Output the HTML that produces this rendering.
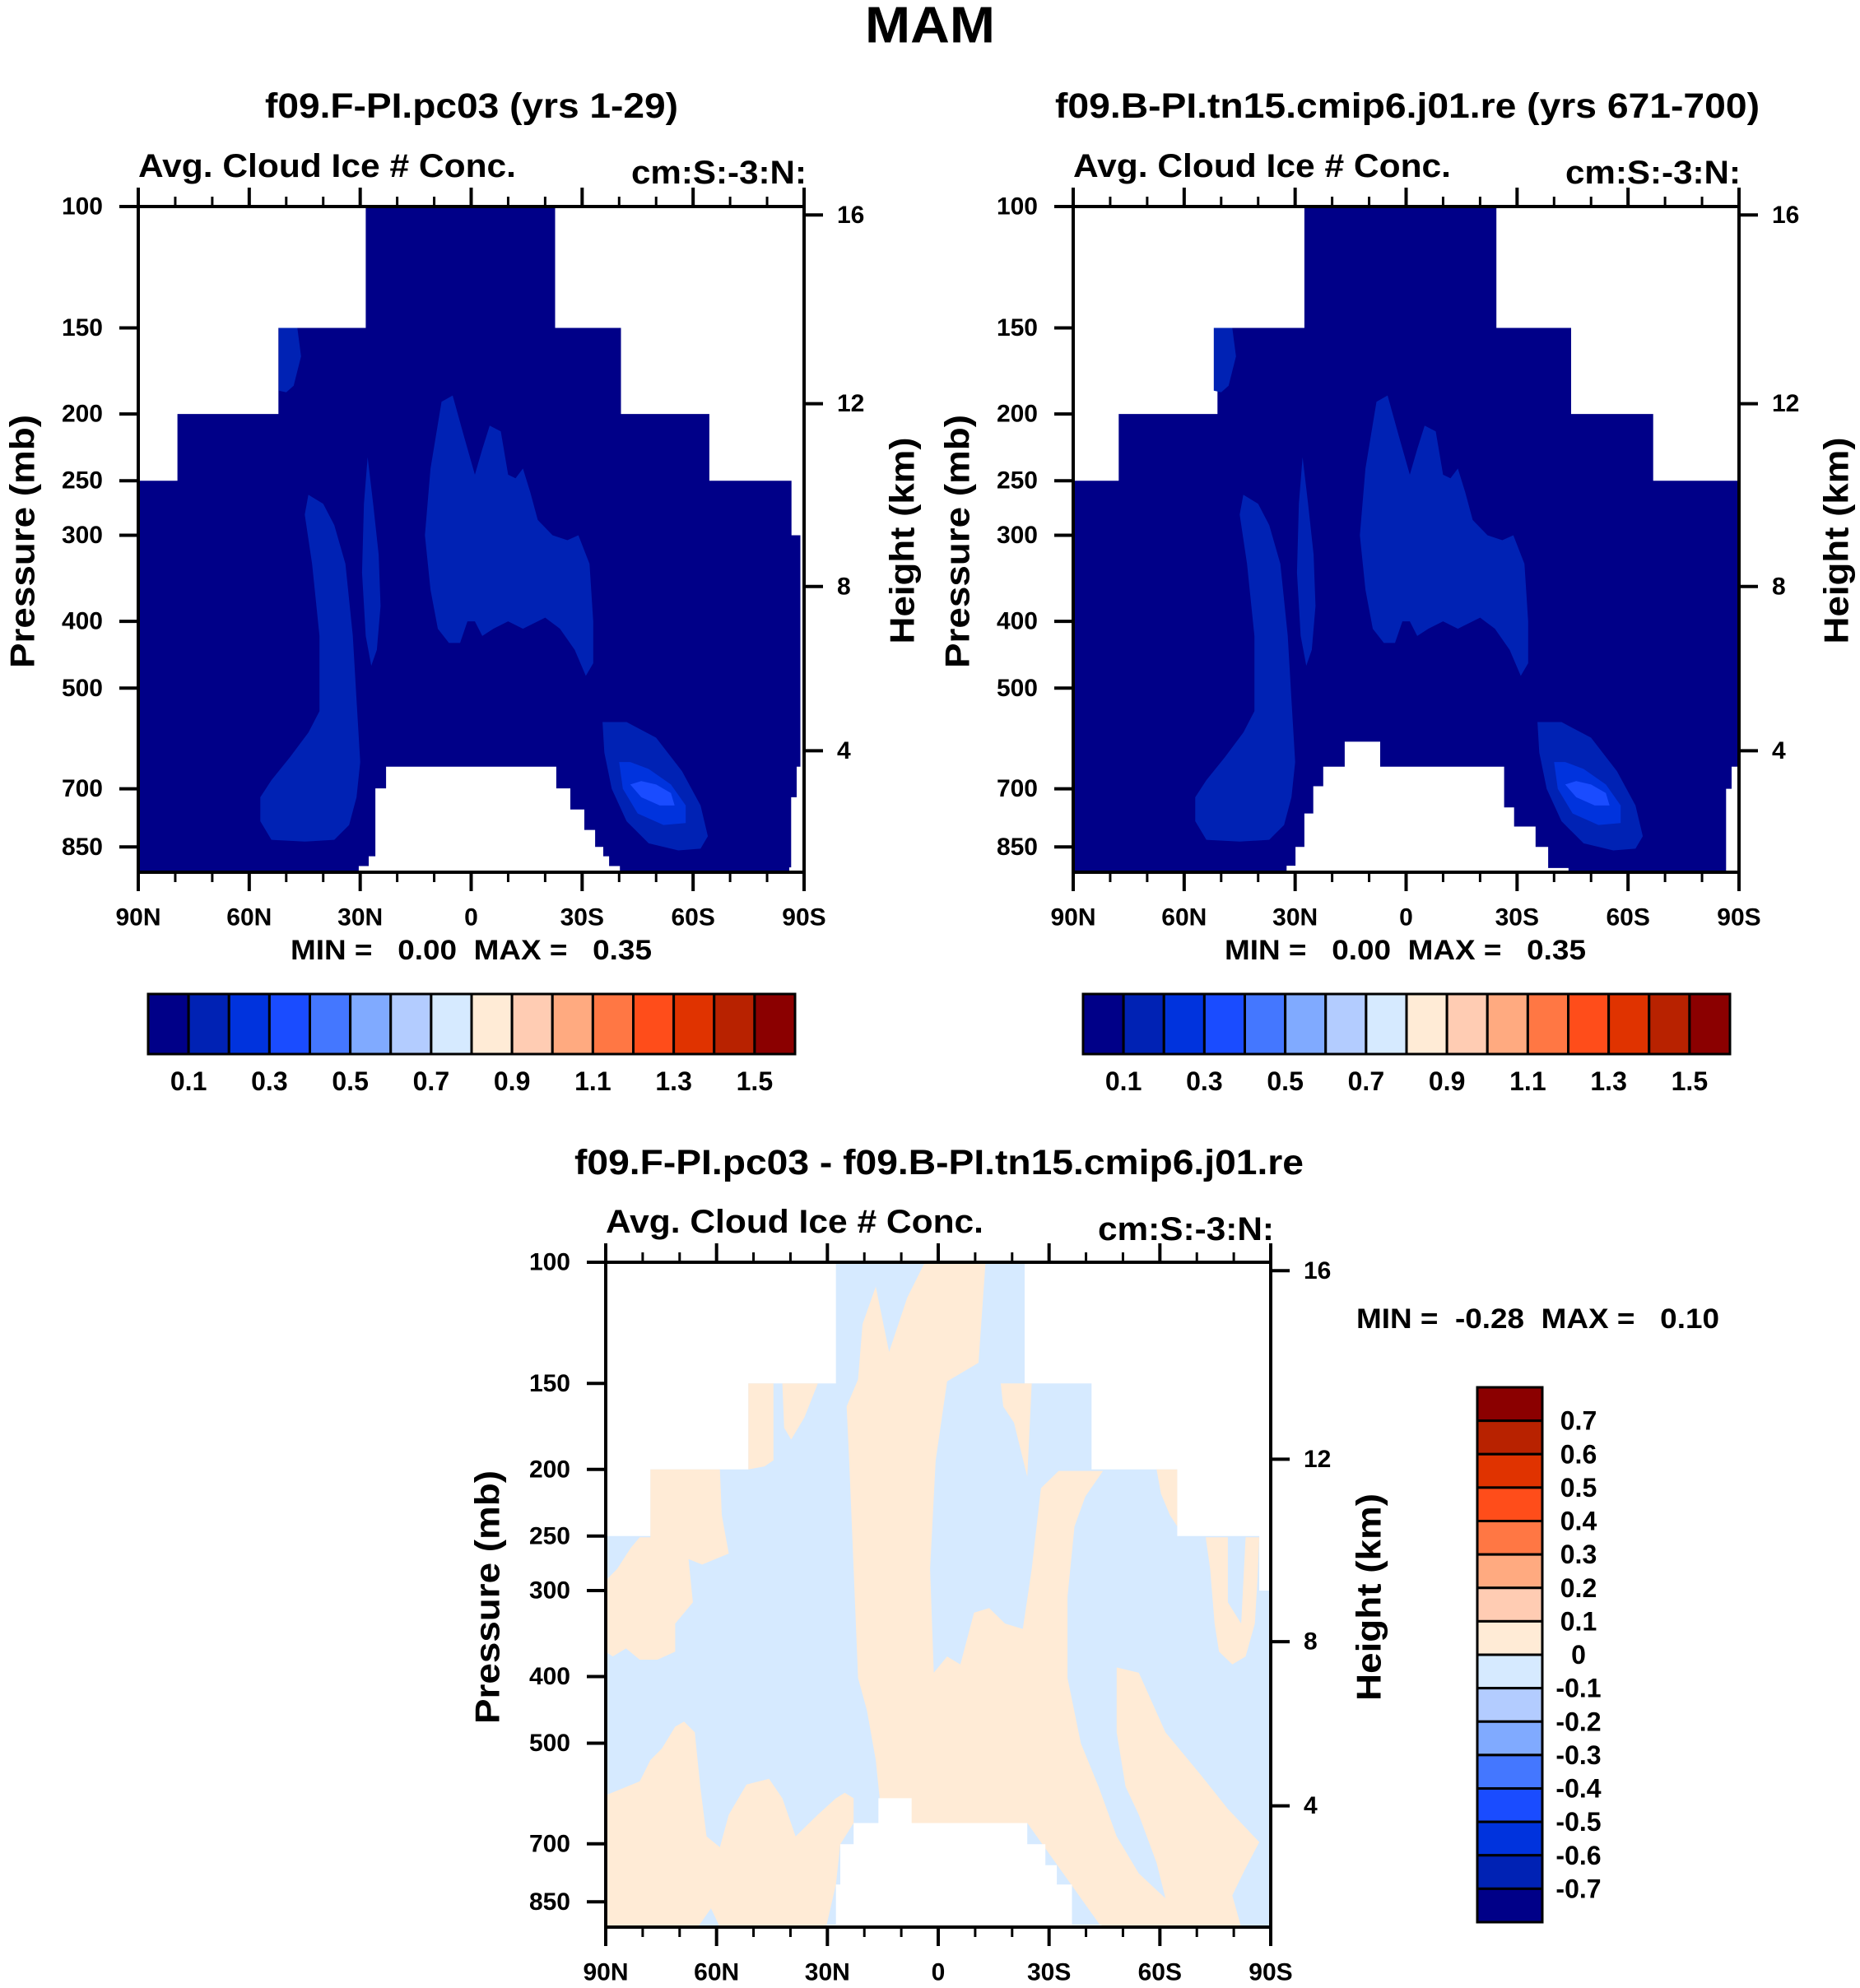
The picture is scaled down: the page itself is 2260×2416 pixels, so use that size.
<!DOCTYPE html>
<html><head><meta charset="utf-8">
<style>
html,body{margin:0;padding:0;background:#fff;}
svg{display:block;}
text{font-family:"Liberation Sans",sans-serif;font-weight:bold;fill:#000;white-space:pre;}
</style></head>
<body>
<svg id="fig" xmlns="http://www.w3.org/2000/svg" width="2260" height="2416" viewBox="0 0 2260 2416"></svg>
<script>
// ---------- data ----------
const latTicks = [90,60,30,0,-30,-60,-90];
const latTickLabels = ['90N','60N','30N','0','30S','60S','90S'];
const latMinor = [80,70,50,40,20,10,-10,-20,-40,-50,-70,-80];
const pTicks = [100,150,200,250,300,400,500,700,850];
const zTicks = [16,12,8,4];
const barColors = ['#000088','#0022B4','#0033DD','#1A4CFF','#4477FF','#80AAFF','#B3CCFF','#D6EAFF','#FFEBD6','#FFCCB3','#FFAA80','#FF7744','#FF4D1A','#E03300','#B82200','#8B0000'];
const barLabels12 = ['0.1','0.3','0.5','0.7','0.9','1.1','1.3','1.5'];
const barLabels3 = ['0.7','0.6','0.5','0.4','0.3','0.2','0.1','0','-0.1','-0.2','-0.3','-0.4','-0.5','-0.6','-0.7'];

// data coverage masks (lat, p)
const mask1 = [[28.5,100],[-22.7,100],[-22.7,150],[-40.5,150],[-40.5,200],[-64.4,200],[-64.4,250],[-86.6,250],[-86.6,300],[-89,300],[-89,650],[-88,650],[-88,720],[-86.5,720],[-86.5,910],[-86,910],[-86,925],[90,925],[90,250],[79.4,250],[79.4,200],[52.1,200],[52.1,150],[28.5,150]];
const mask2 = [[27.5,100],[-24.4,100],[-24.4,150],[-44.6,150],[-44.6,200],[-66.8,200],[-66.8,250],[-90,250],[-90,650],[-88,650],[-88,700],[-86.5,700],[-86.5,925],[90,925],[90,250],[77.7,250],[77.7,200],[51,200],[51,150],[27.5,150]];
const mask3 = [[27.7,100],[-23.4,100],[-23.4,150],[-41.5,150],[-41.5,200],[-64.7,200],[-64.7,250],[-86.9,250],[-86.9,300],[-90,300],[-90,925],[90,925],[90,250],[77.9,250],[77.9,200],[51.4,200],[51.4,150],[27.7,150]];
// surface (missing) regions
const ground1 = [[23,650],[-23,650],[-23,699],[-26.8,699],[-26.8,750],[-30.6,750],[-30.6,803],[-33.5,803],[-33.5,850],[-35.7,850],[-35.7,877],[-37.3,877],[-37.3,906],[-40.2,906],[-40.2,926],[30.4,926],[30.4,906],[27.7,906],[27.7,877],[25.9,877],[25.9,699],[23,699]];
const ground2 = [[22.4,650],[16.6,650],[16.6,598],[7,598],[7,650],[-26.5,650],[-26.5,745],[-29.2,745],[-29.2,794],[-35,794],[-35,850],[-38.4,850],[-38.4,912],[-43.9,912],[-43.9,926],[32.3,926],[32.3,905],[29.9,905],[29.9,850],[27.5,850],[27.5,760],[25.1,760],[25.1,694],[22.4,694]];
const ground3 = [[22.9,653],[16.2,653],[16.2,601],[7.2,601],[7.2,653],[-24.1,653],[-24.1,701],[-29,701],[-29,752],[-32.1,752],[-32.1,802],[-36.2,802],[-36.2,918],[-44.2,918],[-44.2,926],[30.2,926],[30.2,918],[27.7,918],[27.7,802],[26.5,802],[26.5,701],[22.9,701]];

// contour blobs for absolute plots (lat, p)
const blobA = [[44,262],[40,270],[37,290],[34,330],[32,420],[31,520],[30,640],[31,720],[33,790],[37,830],[45,835],[54,830],[57,780],[57,720],[54,680],[49,630],[44,580],[41,540],[41,420],[43,330],[45,280]];
const blobB = [[28,231],[26.5,270],[25,320],[24.5,380],[25.5,440],[27,464],[28.5,420],[29.5,340],[29,270]];
const blobC = [[12.5,300],[11,240],[8,192],[5,188],[2,215],[-1,245],[-3,225],[-5,208],[-8,212],[-10,245],[-12,248],[-14,240],[-16,260],[-18,285],[-22,300],[-26,305],[-29,300],[-32,330],[-33,400],[-33,460],[-31,480],[-28,440],[-24,410],[-20,395],[-18,400],[-14,410],[-10,400],[-6,410],[-3,420],[-1,400],[1,400],[3,430],[6,430],[9,410],[11,360]];
const blobD = [[52,150],[47,150],[46,165],[48,182],[50,186],[52,185]];
const blobE1 = [[-35.5,560],[-36,620],[-38,700],[-42,780],[-48,840],[-56,860],[-62,855],[-64,820],[-62,740],[-57,660],[-50,590],[-42,560]];
const blobE2 = [[-40,640],[-41,700],[-45,760],[-52,790],[-58,785],[-58,740],[-54,690],[-48,655],[-43,640]];
const blobE3 = [[-43,690],[-46,720],[-51,740],[-55,740],[-54,710],[-50,690],[-46,682]];

// positive regions for difference plot (lat, p)
const posBand = [[3.6,100],[-12.8,100],[-10.9,140],[-2.4,149],[0.7,194],[2.2,279],[1.2,395],[-2.4,374],[-6,384],[-9.7,323],[-13.8,318],[-18.1,335],[-22.9,341],[-25.3,279],[-27.8,213],[-32.6,201],[-44.6,201],[-39.8,219],[-36.9,242],[-35,306],[-35,402],[-38.6,500],[-43.4,578],[-48.3,683],[-54.3,773],[-61.5,840],[-59.1,746],[-54.3,635],[-50.7,578],[-48.3,482],[-48.3,388],[-54.3,395],[-61.5,482],[-71.2,557],[-78.4,623],[-86.9,696],[-83.2,759],[-79.6,832],[-82,925],[-44.2,925],[-24.1,653],[12.1,653],[15.7,612],[16.9,529],[19.3,448],[21.7,402],[22.9,279],[24.1,194],[24.8,162],[21.7,148],[20.5,123],[16.9,108.5],[13.3,135],[8.4,112.6]];
const posFingerS = [[-16.9,150],[-25.3,150],[-24.1,205],[-20.5,171],[-17.6,162]];
const posUpperLeft = [[77.9,200],[59.1,200],[58.6,233],[56.7,265],[63.9,275],[67.6,270],[66.4,312],[71.2,335],[71.2,368],[76,378],[80.8,378],[84.5,364],[88.1,374],[90,368],[90,290],[86.9,279],[83.2,260],[80.8,251],[77.9,251]];
const posBlock150 = [[51.4,150],[44.6,150],[44.6,194],[47,198],[51.4,200]];
const posFingerN = [[42.2,150],[32.6,150],[36.2,168],[39.8,181],[41.7,174]];
const posLowerLeft = [[90,595],[80.8,568],[77.9,529],[74.8,509],[71.2,473],[68.8,465],[65.9,482],[64.4,578],[62.7,683],[59.1,708],[56.7,635],[51.9,574],[45.8,563],[42.2,601],[38.6,683],[32.6,635],[27.7,601],[25.3,590],[22.9,601],[22.9,653],[26.5,701],[27.7,802],[30.2,918],[32.6,925],[59.1,925],[61.5,869],[65.1,925],[90,925]];
const posRightPole = [[-72.4,251],[-78.4,251],[-78.4,312],[-82,335],[-83.2,251],[-86.9,251],[-86.4,290],[-85.7,335],[-83.2,374],[-79.6,384],[-76,368],[-74.8,335],[-73.6,279]];
const posRight200 = [[-59.1,200],[-64.7,200],[-64.7,242],[-62.7,233],[-60.3,217]];

// ---------- drawing ----------
const NS = 'http://www.w3.org/2000/svg';
const svg = document.getElementById('fig');
function mk(tag, attrs, parent){
  const e = document.createElementNS(NS, tag);
  for (const k in attrs) e.setAttribute(k, attrs[k]);
  (parent||svg).appendChild(e);
  return e;
}
function txt(s, x, y, size, opts, parent){
  const t = mk('text', Object.assign({x:x, y:y, 'font-size':size, 'dominant-baseline':'central'}, opts||{}), parent);
  t.textContent = s;
  return t;
}
function zToP(z){ // standard atmosphere, km -> hPa
  const m = z*1000;
  if (m <= 11000) return 1013.25*Math.pow(1-2.25577e-5*m, 5.25588);
  return 226.32*Math.exp(-(m-11000)/6341.6);
}
function makeAxes(P){
  const xs = lat => P.x0 + (90-lat)/180*P.w;
  const ys = p => P.y0 + Math.log10(p/100)/Math.log10(9.25)*P.h;
  return {xs, ys};
}
function poly(pts, A, fill, g, name){
  const d = pts.map(q => A.xs(q[0]).toFixed(1)+','+A.ys(q[1]).toFixed(1)).join(' ');
  const e = mk('polygon', {points:d, fill:fill}, g);
  
  
  return e;
}
function frame(P, A, g){
  const sw = 4;
  latTicks.forEach((lat,i) => {
    const x = A.xs(lat);
    mk('line', {x1:x, x2:x, y1:P.y0, y2:P.y0-23, stroke:'#000','stroke-width':sw}, g);
    mk('line', {x1:x, x2:x, y1:P.y0+P.h, y2:P.y0+P.h+23, stroke:'#000','stroke-width':sw}, g);
    const t = txt(latTickLabels[i], x, P.y0+P.h+55, 30, {'text-anchor':'middle'}, g);
    
    
  });
  latMinor.forEach(lat => {
    const x = A.xs(lat);
    mk('line', {x1:x, x2:x, y1:P.y0, y2:P.y0-12, stroke:'#000','stroke-width':3}, g);
    mk('line', {x1:x, x2:x, y1:P.y0+P.h, y2:P.y0+P.h+12, stroke:'#000','stroke-width':3}, g);
  });
  pTicks.forEach(p => {
    const y = A.ys(p);
    mk('line', {x1:P.x0-23, x2:P.x0, y1:y, y2:y, stroke:'#000','stroke-width':sw}, g);
    const t = txt(String(p), P.x0-43, y, 30, {'text-anchor':'end'}, g);
    
    
  });
  zTicks.forEach(z => {
    const y = A.ys(zToP(z));
    mk('line', {x1:P.x0+P.w, x2:P.x0+P.w+23, y1:y, y2:y, stroke:'#000','stroke-width':sw}, g);
    const t = txt(String(z), P.x0+P.w+40, y, 30, {'text-anchor':'start'}, g);
    
    
  });
  const r = mk('rect', {x:P.x0, y:P.y0, width:P.w, height:P.h, fill:'none', stroke:'#000','stroke-width':sw}, g);
  
  
}

const mam = txt('MAM', 1130, 31, 62, {'text-anchor':'middle', textLength:158, lengthAdjust:'spacingAndGlyphs'});



const panels = [
  {x0:168, y0:251, w:809, h:809, mask:mask1, ground:ground1, title:'f09.F-PI.pc03 (yrs 1-29)', tx:322, tw:502, sub:168, cmR:980, minX:353, cb:180, pLab:23, hLab:1094},
  {x0:1304, y0:251, w:809, h:809, mask:mask2, ground:ground2, title:'f09.B-PI.tn15.cmip6.j01.re (yrs 671-700)', tx:1282, tw:856, sub:1304, cmR:2115, minX:1488, cb:1316, pLab:1159, hLab:2229}
];

panels.forEach((P, idx) => {
  const g = mk('g', {});
  
  
  const A = makeAxes(P);
  poly(P.mask, A, barColors[0], g, 'data-region');
  poly(blobA, A, barColors[1], g, 'contour-nh-midlat');
  poly(blobB, A, barColors[1], g, 'contour-subtropic-spike');
  poly(blobC, A, barColors[1], g, 'contour-tropics');
  poly(blobD, A, barColors[1], g, 'contour-150mb');
  poly(blobE1, A, barColors[1], g, 'contour-sh-level1');
  poly(blobE2, A, barColors[2], g, 'contour-sh-level2');
  poly(blobE3, A, barColors[3], g, 'contour-sh-level3');
  poly(P.ground, A, '#ffffff', g, 'surface-mask');
  frame(P, A, g);
  let t = txt(P.title, P.tx, 129, 43, {textLength:P.tw, lengthAdjust:'spacingAndGlyphs'}, g);
  
  
  t = txt('Avg. Cloud Ice # Conc.', P.sub, 202, 40, {textLength:459, lengthAdjust:'spacingAndGlyphs'}, g);
  
  
  t = txt('cm:S:-3:N:', P.cmR-213, 210, 40, {textLength:213, lengthAdjust:'spacingAndGlyphs'}, g);
  
  
  t = txt('MIN =   0.00  MAX =   0.35', P.minX, 1155, 34, {textLength:439, lengthAdjust:'spacingAndGlyphs'}, g);
  
  
  t = txt('Pressure (mb)', 0, 0, 42, {'text-anchor':'middle', transform:'translate('+(P.pLab+4)+',658) rotate(-90)', textLength:308, lengthAdjust:'spacingAndGlyphs'}, g);
  
  
  t = txt('Height (km)', 0, 0, 42, {'text-anchor':'middle', transform:'translate('+(P.hLab+2)+',657) rotate(-90)', textLength:251, lengthAdjust:'spacingAndGlyphs'}, g);
  
  
  const cbg = mk('g', {}, g);
  
  
  const bw = 786/barColors.length;
  barColors.forEach((c,i) => {
    const r = mk('rect', {x:P.cb+i*bw, y:1208, width:bw, height:73, fill:c, stroke:'#000','stroke-width':3}, cbg);
    
    
  });
  barLabels12.forEach((s,i) => {
    const lt = txt(s, P.cb+(1+2*i)*bw, 1314, 32, {'text-anchor':'middle'}, cbg);
    
    
  });
});

(function(){
  const P = {x0:736, y0:1534, w:808, h:808};
  const A = makeAxes(P);
  const g = mk('g', {});
  
  
  poly(mask3, A, barColors[7], g, 'data-region');
  poly(posBand, A, barColors[8], g, 'positive-central-band');
  poly(posFingerS, A, barColors[8], g, 'positive-finger-south');
  poly(posUpperLeft, A, barColors[8], g, 'positive-upper-left');
  poly(posBlock150, A, barColors[8], g, 'positive-150mb-block');
  poly(posFingerN, A, barColors[8], g, 'positive-finger-north');
  poly(posLowerLeft, A, barColors[8], g, 'positive-lower-left');
  poly(posRightPole, A, barColors[8], g, 'positive-south-pole');
  poly(posRight200, A, barColors[8], g, 'positive-200mb-south');
  poly(ground3, A, '#ffffff', g, 'surface-mask');
  frame(P, A, g);
  let t = txt('f09.F-PI.pc03 - f09.B-PI.tn15.cmip6.j01.re', 698, 1413, 43, {textLength:886, lengthAdjust:'spacingAndGlyphs'}, g);
  
  
  t = txt('Avg. Cloud Ice # Conc.', 736, 1485, 40, {textLength:459, lengthAdjust:'spacingAndGlyphs'}, g);
  
  
  t = txt('cm:S:-3:N:', 1334, 1494, 40, {textLength:214, lengthAdjust:'spacingAndGlyphs'}, g);
  
  
  t = txt('MIN =  -0.28  MAX =   0.10', 1648, 1603, 34, {textLength:441, lengthAdjust:'spacingAndGlyphs'}, g);
  
  
  t = txt('Pressure (mb)', 0, 0, 42, {'text-anchor':'middle', transform:'translate(592,1941) rotate(-90)', textLength:308, lengthAdjust:'spacingAndGlyphs'}, g);
  
  
  t = txt('Height (km)', 0, 0, 42, {'text-anchor':'middle', transform:'translate(1663,1941) rotate(-90)', textLength:252, lengthAdjust:'spacingAndGlyphs'}, g);
  
  
  const cbg = mk('g', {}, g);
  
  
  const bh = 650/barColors.length;
  barColors.slice().reverse().forEach((c,i) => {
    const r = mk('rect', {x:1795, y:1686+i*bh, width:79, height:bh, fill:c, stroke:'#000','stroke-width':3}, cbg);
    
    
  });
  barLabels3.forEach((s,i) => {
    const lt = txt(s, 1918, 1686+(i+1)*bh, 32, {'text-anchor':'middle'}, cbg);
    
    
  });
})();
</script>
</body></html>
